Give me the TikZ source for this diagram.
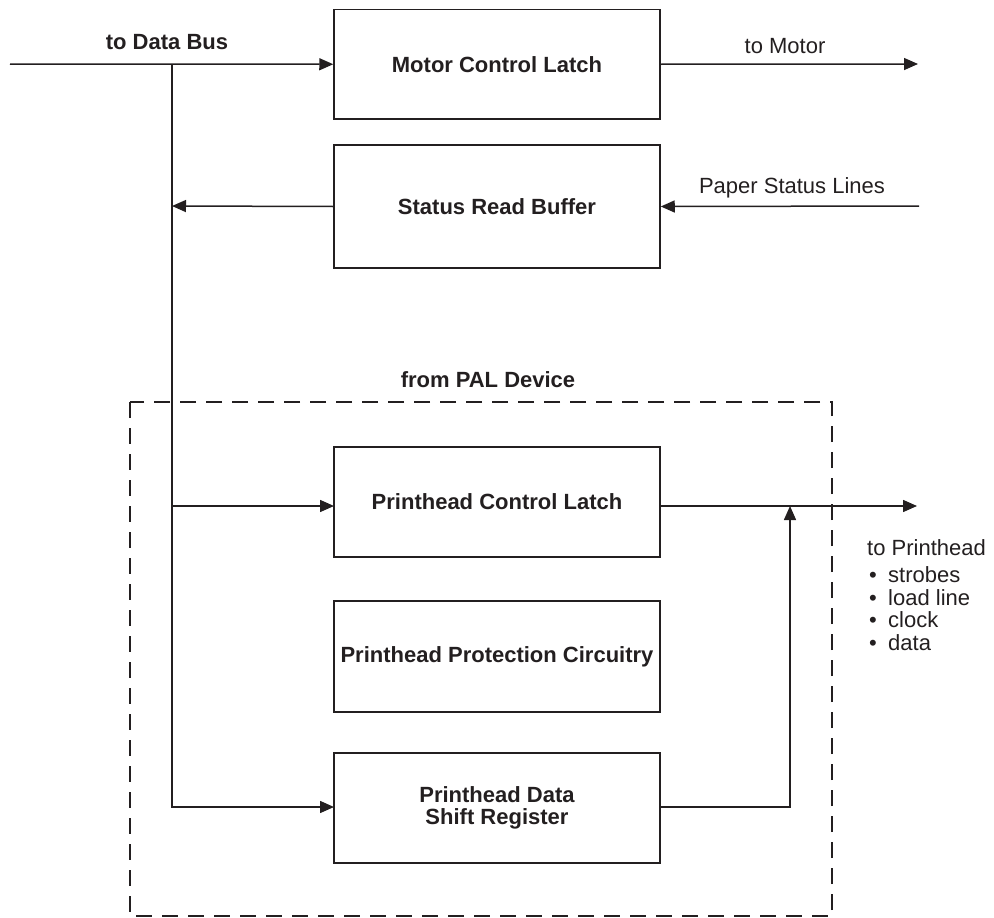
\documentclass[tikz,border=0pt]{standalone}
\usepackage{fontspec}
\setmainfont{Liberation Sans}
\usetikzlibrary{arrows.meta}
\definecolor{ink}{HTML}{231F20}
\tikzset{
  blk/.style={draw=ink, line width=1.5pt, minimum width=326pt, inner sep=0pt,
    font=\fontsize{22}{22}\selectfont\bfseries, text=ink, align=center},
  wire/.style={draw=ink, line width=1.5pt},
  arr/.style={wire, -{Triangle[length=14pt,width=12pt]}},
  lbl/.style={font=\fontsize{22}{22.5}\selectfont, text=ink, inner sep=0pt},
  blbl/.style={lbl, font=\fontsize{22}{22.5}\selectfont\bfseries},
  grp/.style={draw=ink, line width=1.5pt, dash pattern=on 16pt off 10pt}
}
\begin{document}
\begin{tikzpicture}[x=1pt,y=-1pt]
\useasboundingbox (0,0) rectangle (994,918);
% group box
\draw[grp] (130,402) rectangle (832,916);
% blocks
\node[blk, minimum height=109.5pt] (motor) at (497,64.25) {Motor Control Latch};
\node[blk, minimum height=123pt] (status) at (497,206.5) {Status Read Buffer};
\node[blk, minimum height=110pt] (pcl) at (497,502) {Printhead Control Latch};
\node[blk, minimum height=111pt] (prot) at (497,656.5) {Printhead Protection Circuitry};
\node[blk, minimum height=110pt] (shift) at (497,808) {Printhead Data\\Shift Register};
% coordinates
\coordinate (in) at (10,64);
\coordinate (bustop) at (172,64);
\coordinate (busstat) at (172,206);
\coordinate (buspcl) at (172,506);
\coordinate (busbot) at (172,807);
\coordinate (pclin) at (334,506);
\coordinate (pclout) at (660,506);
\coordinate (motorout) at (918,64);
\coordinate (paperin) at (919,206);
\coordinate (headout) at (917,506);
\coordinate (join) at (790,506);
\coordinate (shiftout) at (660,807);
\coordinate (shiftin) at (334,807);
\coordinate (corner) at (790,807);
% connectors
\draw[arr] (in) -- (motor.west);
\draw[arr] (bustop) -- (busbot) -- (shiftin);
\draw[arr] (motor.east) -- (motorout);
\draw[arr] (paperin) -- (status.east);
\draw[arr] (status.west) -- (busstat);
\draw[arr] (buspcl) -- (pclin);
\draw[arr] (pclout) -- (headout);
\draw[arr] (shiftout) -- (corner) -- (join);
% labels
\node[blbl, anchor=base] (tdb) at (167,49) {to Data Bus};
\node[lbl, anchor=base] (tmot) at (785,53) {to Motor};
\node[lbl, anchor=base] (psl) at (792,193) {Paper Status Lines};
\node[blbl, anchor=base] (pal) at (488,387) {from PAL Device};
\node[lbl, anchor=base west] (tph) at (867,555) {to Printhead};
\node[lbl, anchor=base west] (b1) at (869,582.5) {\makebox[19pt][l]{•}strobes};
\node[lbl, anchor=base west] (b2) at (869,605) {\makebox[19pt][l]{•}load line};
\node[lbl, anchor=base west] (b3) at (869,627.5) {\makebox[19pt][l]{•}clock};
\node[lbl, anchor=base west] (b4) at (869,650) {\makebox[19pt][l]{•}data};
\end{tikzpicture}
\end{document}
